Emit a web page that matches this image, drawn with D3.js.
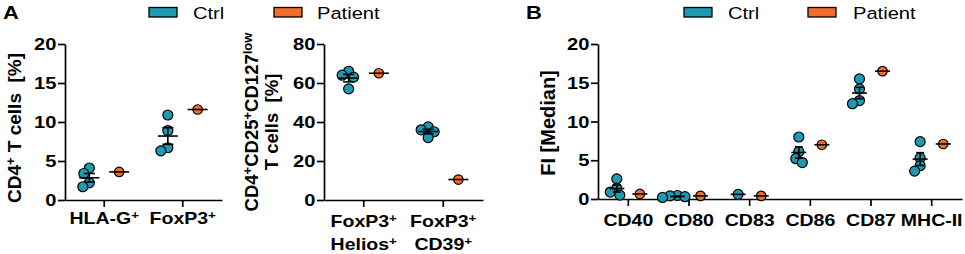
<!DOCTYPE html>
<html><head><meta charset="utf-8">
<script src="https://cdn.jsdelivr.net/npm/d3@7"></script>
<style>
body{margin:0;background:#fff;}
svg{display:block;font-family:"Liberation Sans",Arial,sans-serif;}
</style></head>
<body><svg id="c" width="965" height="254"></svg>
<script>
// ---------- data ----------
const seriesNames = ["Ctrl", "Patient"];
// Panel A (left): % of CD4+ T cells
const catsA1 = ["HLA-G^+", "FoxP3^+"];
const ctrlA1 = [[4.1, 1.7, 2.2, 3.4], [10.9, 8.9, 6.3, 6.7]];
const patA1 = [3.6, 11.6];
const ticksA1 = [0, 5, 10, 15, 20];
// Panel A (right): % of CD4+CD25+CD127low T cells
const catsA2 = ["FoxP3^+|Helios^+", "FoxP3^+|CD39^+"];
const ctrlA2 = [[66, 57, 64, 63], [36, 37.5, 32, 35]];
const patA2 = [65, 10.5];
const ticksA2 = [0, 20, 40, 60, 80];
// Panel B: FI [Median]
const catsB = ["CD40", "CD80", "CD83", "CD86", "CD87", "MHC-II"];
const ctrlB = [[2.6, 1.4, 0.9, 0.5], [0.3, 0.2, 0.45, 0.4], [0.6], [8.0, 6.1, 4.7, 5.2], [15.5, 12.3, 12.7, 14.2], [7.4, 5.3, 4.3, 3.6]];
const patB = [0.65, 0.4, 0.4, 7.0, 16.5, 7.1];
const ticksB = [0, 5, 10, 15, 20];

// ---------- styles ----------
const teal = "#1f9ab4", orange = "#f36c2b";
const SX = 1.22; // horizontal stretch of the reference lettering
const svg = d3.select("#c");

function addRich(textSel, str, supSize) {
  const parts = str.split(/(\^\+|\^low)/).filter(s => s.length);
  let raised = false;
  parts.forEach(p => {
    if (p.startsWith("^")) {
      textSel.append("tspan").attr("font-size", supSize).attr("dy", raised ? 0 : "-0.5em").text(p.slice(1));
      raised = true;
    } else {
      const t = textSel.append("tspan").text(p);
      if (raised) { t.attr("dy", (supSize * 0.5) + "px"); raised = false; }
    }
  });
}
function hText(g, x, y, str, opts) {
  const t = g.append("text")
    .attr("transform", `translate(${x},${y}) scale(${SX},1)`)
    .attr("text-anchor", opts.anchor || "middle")
    .attr("font-size", opts.size || 15)
    .attr("font-weight", opts.weight || "bold")
    .attr("fill", "#000");
  addRich(t, str, opts.sup || 11);
  return t;
}

function swarm(vals, cx, y, minD) {
  const pts = vals.map(v => ({v, y: y(v)})).sort((a, b) => a.y - b.y);
  const placed = [];
  pts.forEach(p => {
    for (let k = 0; k < 400; k++) {
      const off = k === 0 ? 0 : (k % 2 ? -1 : 1) * Math.ceil(k / 2) * 0.5;
      const x = cx + off;
      if (placed.every(q => Math.hypot(q.x - x, q.y - p.y) >= minD)) { p.x = x; break; }
    }
    placed.push(p);
  });
  return placed;
}

function panel(cfg) {
  const g = svg.append("g");
  const x = d3.scaleBand().domain(cfg.cats).range([cfg.x0, cfg.x1]).padding(0);
  const y = d3.scaleLinear().domain([cfg.ticks[0], cfg.ticks[cfg.ticks.length - 1]]).range([cfg.y0, cfg.y1]);
  const bw = x.bandwidth();
  const off = bw * cfg.offFrac;

  // y axis
  const ya = g.append("g").attr("transform", `translate(${cfg.x0},0)`)
    .call(d3.axisLeft(y).tickValues(cfg.ticks).tickSize(7).tickSizeOuter(0).tickFormat(""));
  ya.select(".domain").attr("stroke", "#000").attr("stroke-width", 1.7);
  ya.selectAll(".tick line").attr("stroke", "#000").attr("stroke-width", 1.7);
  cfg.ticks.forEach(t => {
    hText(g, cfg.x0 - 8.5, y(t) + 6, String(t), {anchor: "end", size: 16.5});
  });

  // x axis
  const xa = g.append("g").attr("transform", `translate(0,${cfg.y0})`)
    .call(d3.axisBottom(x).tickSize(7).tickSizeOuter(0).tickFormat(""));
  xa.select(".domain").attr("stroke", "#000").attr("stroke-width", 1.7);
  xa.selectAll(".tick line").attr("stroke", "#000").attr("stroke-width", 1.7);
  cfg.cats.forEach(c => {
    c.split("|").forEach((ln, i) => {
      hText(g, x(c) + bw / 2, cfg.y0 + cfg.lab0 + i * 23, ln, {size: 16});
    });
  });

  // y title (rotated)
  cfg.title.forEach((ln, i) => {
    const t = g.append("text")
      .attr("transform", `translate(${cfg.titleX + i * 20},${cfg.titleY}) rotate(-90)`)
      .attr("text-anchor", "middle").attr("font-size", cfg.titleSize).attr("font-weight", "bold");
    addRich(t, ln, 13);
  });

  const r = cfg.r;
  const marks = g.append("g");
  const lines = g.append("g").attr("stroke", "#000").attr("stroke-width", 1.6);
  cfg.cats.forEach((c, i) => {
    const cc = x(c) + bw / 2 - off;
    const vals = cfg.ctrl[i];
    const pts = swarm(vals, cc, y, r * 1.5);
    marks.selectAll(null).data(pts).enter().append("circle")
      .attr("cx", d => d.x).attr("cy", d => d.y).attr("r", r)
      .attr("fill", teal).attr("stroke", "#000").attr("stroke-width", 1.2);
    const m = d3.mean(vals);
    lines.append("line").attr("x1", cc - cfg.meanW / 2).attr("x2", cc + cfg.meanW / 2)
      .attr("y1", y(m)).attr("y2", y(m));
    if (vals.length > 1) {
      const sem = d3.deviation(vals) / Math.sqrt(vals.length);
      lines.append("line").attr("x1", cc).attr("x2", cc).attr("y1", y(m - sem)).attr("y2", y(m + sem));
      [m - sem, m + sem].forEach(v => lines.append("line")
        .attr("x1", cc - cfg.capW / 2).attr("x2", cc + cfg.capW / 2).attr("y1", y(v)).attr("y2", y(v)));
    }
    const pc = x(c) + bw / 2 + off;
    marks.append("circle").attr("cx", pc).attr("cy", y(cfg.pat[i])).attr("r", r * 0.95)
      .attr("fill", orange).attr("stroke", "#000").attr("stroke-width", 1.2);
    lines.append("line").attr("x1", pc - cfg.meanW / 2).attr("x2", pc + cfg.meanW / 2)
      .attr("y1", y(cfg.pat[i])).attr("y2", y(cfg.pat[i]));
  });
}

panel({cats: catsA1, ctrl: ctrlA1, pat: patA1, ticks: ticksA1, x0: 65, x1: 222, y0: 200, y1: 44,
  offFrac: 0.19, r: 5, meanW: 20, capW: 11, lab0: 24,
  title: ["CD4^+ T cells\u00A0\u00A0[%]"], titleX: 21, titleY: 128, titleSize: 19});
panel({cats: catsA2, ctrl: ctrlA2, pat: patA2, ticks: ticksA2, x0: 324, x1: 483, y0: 200, y1: 44,
  offFrac: 0.19, r: 5, meanW: 20, capW: 11, lab0: 27,
  title: ["CD4^+CD25^+CD127^low", "T cells\u00A0\u00A0[%]"], titleX: 258, titleY: 122, titleSize: 18.5});
panel({cats: catsB, ctrl: ctrlB, pat: patB, ticks: ticksB, x0: 598, x1: 962, y0: 199, y1: 44,
  offFrac: 0.19, r: 5, meanW: 15, capW: 8, lab0: 27,
  title: ["FI [Median]"], titleX: 555, titleY: 123, titleSize: 20});

// legends
function legend(items) {
  items.forEach(it => {
    svg.append("rect").attr("x", it.rx).attr("y", 7.5).attr("width", 28).attr("height", 9.5)
      .attr("fill", it.color).attr("stroke", "#000").attr("stroke-width", 1.3);
    hText(svg, it.tx, 19, it.name, {anchor: "start", size: 16.5, weight: "normal"});
  });
}
legend([{rx: 149, tx: 193, name: seriesNames[0], color: teal}, {rx: 274, tx: 317, name: seriesNames[1], color: orange}]);
legend([{rx: 684, tx: 728, name: seriesNames[0], color: teal}, {rx: 808, tx: 853, name: seriesNames[1], color: orange}]);

hText(svg, 3, 19, "A", {anchor: "start", size: 18});
hText(svg, 526, 19, "B", {anchor: "start", size: 18});
</script></body></html>
